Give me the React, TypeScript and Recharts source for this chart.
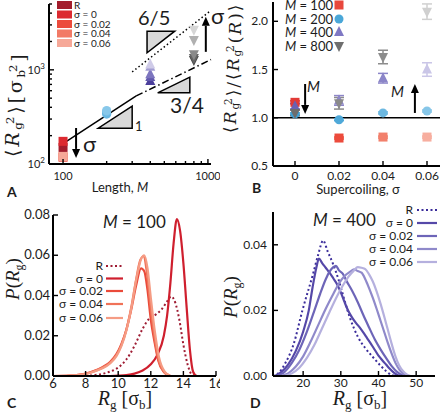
import React from "react";
import { ComposedChart, Scatter, Line, XAxis, YAxis, ReferenceLine, ErrorBar } from "recharts";

const SANS = "Lato, 'Open Sans', sans-serif";
const SERIF = "'Liberation Serif', 'DejaVu Serif', serif";
const WIDE_SERIF = "'DejaVu Serif', serif";
const INK = "#1c1c1c";

// ---- panel A: <Rg^2> vs chain length (log-log)
const lengths = [100, 200, 400, 800];
const variants = ["R", "σ = 0", "σ = 0.02", "σ = 0.04", "σ = 0.06"];
const rg2M100 = [150, 174, 118, 120, 120];
const rg2M200 = [345, 360, 338, 362, 370];
const rg2M400 = [760, 840, 900, 1080, 1140];
const rg2M800 = [1270, 1335, 1460, 2070, 2670];
const xTicksA = [100, 200, 300, 400, 500, 600, 700, 800, 900, 1000];
const yTicksA = [100, 200, 300, 400, 500, 600, 700, 800, 900, 1000, 2000, 3000, 4000, 5000];

// ---- panel B: ratio vs supercoiling
const sigmas = [0, 0.02, 0.04, 0.06];
const ratioM100 = [1.16, 0.79, 0.8, 0.8];
const ratioM200 = [1.04, 0.98, 1.05, 1.07];
const ratioM400 = [1.12, 1.18, 1.41, 1.5];
const ratioM800 = [1.05, 1.15, 1.63, 2.1];
const errM100 = [0.015, 0.01, 0.01, 0.01];
const errM200 = [0.01, 0.01, 0.01, 0.01];
const errM400 = [0.03, 0.05, 0.05, 0.07];
const errM800 = [0.03, 0.06, 0.07, 0.08];
const legendB = ["M = 100", "M = 200", "M = 400", "M = 800"];

// ---- panel C: P(Rg), M = 100
const cR = [[8, 0], [8.5, 0.0004], [9, 0.001], [9.5, 0.0022], [10, 0.0042], [10.5, 0.0082], [11, 0.015], [11.5, 0.0235], [11.9, 0.0285], [12.3, 0.0305], [12.7, 0.0335], [13.0, 0.037], [13.25, 0.0395], [13.5, 0.0365], [13.75, 0.028], [14, 0.0155], [14.25, 0.006], [14.5, 0.0008], [14.7, 0]];
const cS0 = [[9.5, 0], [10, 0.0002], [10.5, 0.0005], [11, 0.0012], [11.5, 0.0027], [12, 0.0058], [12.4, 0.0105], [12.8, 0.02], [13.0, 0.03], [13.2, 0.046], [13.4, 0.066], [13.6, 0.078], [13.8, 0.072], [14.0, 0.056], [14.2, 0.034], [14.4, 0.013], [14.6, 0.002], [14.8, 0]];
const cS2 = [[6, 0], [7, 0.0002], [8, 0.0012], [8.5, 0.0025], [9, 0.0043], [9.5, 0.007], [9.9, 0.011], [10.2, 0.016], [10.5, 0.023], [10.8, 0.033], [11.1, 0.045], [11.4, 0.0535], [11.6, 0.052], [11.8, 0.0425], [12.0, 0.028], [12.25, 0.016], [12.45, 0.0078], [12.8, 0.002], [13.2, 0]];
const cS4 = [[6, 0], [7, 0.0002], [8, 0.0011], [8.5, 0.0023], [9, 0.004], [9.5, 0.0066], [9.9, 0.0105], [10.2, 0.0155], [10.5, 0.023], [10.8, 0.034], [11.1, 0.048], [11.35, 0.0575], [11.55, 0.0595], [11.75, 0.052], [11.95, 0.037], [12.2, 0.021], [12.45, 0.009], [12.8, 0.0022], [13.2, 0]];
const cS6 = [[6, 0], [7, 0.0002], [8, 0.001], [8.5, 0.0021], [9, 0.0037], [9.5, 0.0062], [9.9, 0.01], [10.2, 0.015], [10.5, 0.0225], [10.8, 0.0335], [11.1, 0.0475], [11.4, 0.058], [11.6, 0.06], [11.8, 0.0535], [12.0, 0.039], [12.25, 0.022], [12.5, 0.0095], [12.85, 0.0022], [13.2, 0]];

// ---- panel D: P(Rg), M = 400
const dR = [[12, 0], [13.3, 0.0007], [15.2, 0.0038], [17.5, 0.0098], [19.8, 0.02], [22.6, 0.031], [24, 0.037], [25.3, 0.0413], [26.5, 0.038], [28, 0.034], [29.5, 0.029], [31, 0.023], [32.5, 0.0175], [34.5, 0.012], [36.5, 0.0085], [38.5, 0.0058], [40.5, 0.0032], [42, 0.0015], [43.5, 0.0003], [44.5, 0]];
const dS0 = [[12.5, 0], [14, 0.001], [16, 0.0035], [18, 0.0075], [20, 0.0135], [21.5, 0.02], [22.5, 0.027], [23.5, 0.033], [24.2, 0.0358], [25, 0.0345], [26, 0.033], [27, 0.0315], [28, 0.0298], [29, 0.028], [30, 0.0255], [31, 0.0225], [32, 0.0198], [33, 0.0178], [34, 0.0162], [35, 0.0148], [36, 0.0132], [37, 0.0115], [38, 0.0098], [39, 0.008], [40, 0.0062], [41, 0.0048], [42, 0.0035], [43, 0.0022], [44, 0.0011], [45, 0.0003], [46, 0]];
const dS2 = [[13, 0], [15, 0.0012], [17, 0.004], [19, 0.008], [21, 0.0135], [23, 0.02], [24.5, 0.025], [26, 0.0295], [27, 0.0318], [28, 0.0332], [28.7, 0.0336], [29.5, 0.0322], [30.5, 0.0312], [31.5, 0.029], [33, 0.026], [34.5, 0.0225], [36, 0.0185], [37.5, 0.0148], [39, 0.0112], [40.5, 0.0082], [42, 0.0055], [43.5, 0.003], [45, 0.0012], [46.5, 0.0002], [47.5, 0]];
const dS4 = [[14, 0], [16, 0.0008], [18, 0.0028], [20, 0.006], [22, 0.0105], [24, 0.0155], [26, 0.0205], [28, 0.025], [29.5, 0.0282], [31, 0.0305], [32.5, 0.0318], [33.5, 0.0325], [34.5, 0.032], [35.5, 0.0315], [36.5, 0.0295], [37.5, 0.0268], [38.5, 0.0238], [39.5, 0.0205], [40.5, 0.017], [41.5, 0.0135], [42.5, 0.01], [43.5, 0.0068], [44.5, 0.004], [45.5, 0.002], [46.5, 0.0007], [47.5, 0]];
const dS6 = [[15, 0], [17, 0.0008], [19, 0.0025], [21, 0.0055], [23, 0.0095], [25, 0.0145], [27, 0.0195], [29, 0.0243], [30.5, 0.0275], [32, 0.0302], [33.5, 0.0322], [34.5, 0.0332], [35.5, 0.033], [36.5, 0.0326], [37.5, 0.031], [38.5, 0.0288], [39.5, 0.0258], [40.5, 0.0222], [41.5, 0.0182], [42.5, 0.014], [43.5, 0.0098], [44.5, 0.006], [45.5, 0.0032], [46.5, 0.0015], [47.5, 0.0005], [48.5, 0]];

// colours
const redA = ["#a31d2c", "#dc2a30", "#ec4b3c", "#f27a66", "#f6a898"];
const blueA = ["#4aa3d6", "#5aafdf", "#6ab8e2", "#79c0e6", "#88c8ea"];
const purpleA = ["#4b3f9c", "#6259ad", "#7d75bf", "#a29dd2", "#cfcbe8"];
const greyA = ["#4a4a4a", "#666666", "#8a8a8a", "#b0b0b0", "#d6d6d6"];
const redB = ["#e23a36", "#ec4b3c", "#f2806c", "#f7ae9f"];
const blueB = ["#3f9fd3", "#4fa9d9", "#6cb8e1", "#86c6e8"];
const purpleB = ["#6a61b3", "#8d86c8", "#8b85c8", "#cac6e7"];
const greyB = ["#6d6d6d", "#8a8a8a", "#8c8c8c", "#d0d0d0"];
const lineC = ["#9e1b32", "#cf1f2e", "#ea4a3a", "#f07258", "#f59c84"];
const lineD = ["#3a2c9a", "#5548a8", "#6d65b8", "#8f89ca", "#b5b0de"];

const rows = (pts: number[][]) => pts.map(([x, p]) => ({ x, p }));

type TickOpts = { axis: "x" | "y"; fmt: (v: number) => React.ReactNode | null; gap: number; size?: number; major?: number; minor?: number };
const makeTick = (o: TickOpts) => (p: any) => {
  const v = Number(p.payload.value);
  const lab = o.fmt(v);
  const len = lab === null ? o.minor ?? 3 : o.major ?? 5;
  if (o.axis === "x") {
    return (
      <g>
        <line x1={p.x} x2={p.x} y1={p.y} y2={p.y - len} stroke="#000" strokeWidth={1.4} />
        {lab !== null && (
          <text x={p.x} y={p.y + o.gap} textAnchor="middle" fontFamily={SANS} fontSize={o.size ?? 12} fill={INK}>
            {lab}
          </text>
        )}
      </g>
    );
  }
  return (
    <g>
      <line x1={p.x} x2={p.x + len} y1={p.y} y2={p.y} stroke="#000" strokeWidth={1.4} />
      {lab !== null && (
        <text x={p.x - o.gap} y={p.y + 4} textAnchor="end" fontFamily={SANS} fontSize={o.size ?? 12} fill={INK}>
          {lab}
        </text>
      )}
    </g>
  );
};

const pow10 = (e: string) => (
  <>
    10<tspan dy={-5} fontSize={8}>{e}</tspan>
  </>
);

const tickAX = makeTick({ axis: "x", gap: 16, size: 11, fmt: (v) => (v === 100 ? "100" : v === 1000 ? "1000" : null) });
const tickAY = makeTick({ axis: "y", gap: 4, size: 11, fmt: (v) => (v === 100 ? pow10("2") : v === 1000 ? pow10("3") : null) });
const tickBX = makeTick({ axis: "x", gap: 14, size: 12, fmt: (v) => (v === 0 ? "0" : v.toFixed(2)) });
const tickBY = makeTick({ axis: "y", gap: 5, size: 12, fmt: (v) => v.toFixed(1) });
const tickCX = makeTick({ axis: "x", gap: 12, size: 13, fmt: (v) => String(v) });
const tickCY = makeTick({ axis: "y", gap: 3, size: 13, fmt: (v) => v.toFixed(2) });
const tickDX = makeTick({ axis: "x", gap: 11, size: 12, fmt: (v) => String(v) });
const tickDY = makeTick({ axis: "y", gap: 6, size: 12, fmt: (v) => v.toFixed(2) });

const axisLine = { stroke: "#000", strokeWidth: 2 };

const square = (c: string, s: number) => (p: any) => <rect x={p.cx - s / 2} y={p.cy - s / 2} width={s} height={s} fill={c} />;
const dot = (c: string, s: number) => (p: any) => <circle cx={p.cx} cy={p.cy} r={s / 2} fill={c} />;
const triUp = (c: string, s: number) => (p: any) => (
  <polygon points={`${p.cx},${p.cy - s * 0.6} ${p.cx - s / 2},${p.cy + s * 0.4} ${p.cx + s / 2},${p.cy + s * 0.4}`} fill={c} />
);
const triDown = (c: string, s: number) => (p: any) => (
  <polygon points={`${p.cx},${p.cy + s * 0.6} ${p.cx - s / 2},${p.cy - s * 0.4} ${p.cx + s / 2},${p.cy - s * 0.4}`} fill={c} />
);

// slope triangle drawn on the hypotenuse segment; corner chooses the right-angle vertex
const slopeTri = (corner: "br" | "tl") => (p: any) => {
  const cx = corner === "br" ? p.x2 : p.x1;
  const cy = corner === "br" ? p.y1 : p.y2;
  return <polygon points={`${p.x1},${p.y1} ${cx},${cy} ${p.x2},${p.y2}`} fill="#d9d9d9" stroke="#000" strokeWidth={1.5} />;
};

const arrow = (p: any) => {
  const a = Math.atan2(p.y2 - p.y1, p.x2 - p.x1);
  const L = 9;
  const W = 4;
  const bx = p.x2 - L * Math.cos(a);
  const by = p.y2 - L * Math.sin(a);
  const nx = -Math.sin(a) * W;
  const ny = Math.cos(a) * W;
  return (
    <g>
      <line x1={p.x1} y1={p.y1} x2={bx} y2={by} stroke="#000" strokeWidth={2} />
      <polygon points={`${p.x2},${p.y2} ${bx + nx},${by + ny} ${bx - nx},${by - ny}`} fill="#000" />
    </g>
  );
};

// axis blocks are 1px deep, so margins are one less than the plot offsets
function PanelA() {
  const groups = [
    { m: lengths[0], v: rg2M100, c: redA, shape: square, s: 9 },
    { m: lengths[1], v: rg2M200, c: blueA, shape: dot, s: 9 },
    { m: lengths[2], v: rg2M400, c: purpleA, shape: triUp, s: 10 },
    { m: lengths[3], v: rg2M800, c: greyA, shape: triDown, s: 10 },
  ];
  return (
    <ComposedChart width={220} height={210} margin={{ top: 4, right: 9, bottom: 45, left: 48 }}>
      <XAxis type="number" dataKey="m" scale="log" domain={[80, 1050]} ticks={xTicksA} interval={0} allowDataOverflow
        height={1} tickSize={0} tickMargin={0} axisLine={axisLine} tickLine={false} tick={tickAX} />
      <YAxis type="number" dataKey="v" scale="log" domain={[100, 5000]} ticks={yTicksA} interval={0} allowDataOverflow
        width={1} tickSize={0} tickMargin={0} axisLine={axisLine} tickLine={false} tick={tickAY} />
      <ReferenceLine segment={[{ x: 100, y: 165 }, { x: 320, y: 528 }]} stroke="#000" strokeWidth={1.5} />
      <ReferenceLine segment={[{ x: 320, y: 528 }, { x: 1050, y: 1286 }]} stroke="#000" strokeWidth={1.5} strokeDasharray="7 3 1.5 3" />
      <ReferenceLine segment={[{ x: 300, y: 950 }, { x: 1040, y: 4223 }]} stroke="#000" strokeWidth={1.5} strokeDasharray="1.5 2.5" />
      <ReferenceLine segment={[{ x: 175, y: 240 }, { x: 300, y: 411 }]} shape={slopeTri("br")} />
      <ReferenceLine segment={[{ x: 450, y: 570 }, { x: 750, y: 836 }]} shape={slopeTri("br")} />
      <ReferenceLine segment={[{ x: 380, y: 1516 }, { x: 590, y: 2571 }]} shape={slopeTri("tl")} />
      <ReferenceLine segment={[{ x: 123, y: 241 }, { x: 123, y: 116 }]} shape={arrow} />
      <ReferenceLine segment={[{ x: 967, y: 1552 }, { x: 967, y: 3660 }]} shape={arrow} />
      {groups.map((g) =>
        g.v.map((v, j) => (
          <Scatter key={`${g.m}-${j}`} data={[{ m: g.m, v }]} fill={g.c[j]} shape={g.shape(g.c[j], g.s)} isAnimationActive={false} />
        ))
      )}
    </ComposedChart>
  );
}

function PanelB() {
  const groups = [
    { r: ratioM100, e: errM100, c: redB, shape: square, s: 9 },
    { r: ratioM200, e: errM200, c: blueB, shape: dot, s: 9 },
    { r: ratioM400, e: errM400, c: purpleB, shape: triUp, s: 10 },
    { r: ratioM800, e: errM800, c: greyB, shape: triDown, s: 10 },
  ];
  return (
    <ComposedChart width={240} height={205} margin={{ top: 2, right: 11, bottom: 38, left: 52 }}>
      <XAxis type="number" dataKey="s" domain={[-0.01, 0.07]} ticks={sigmas} interval={0} allowDataOverflow
        height={1} tickSize={0} tickMargin={0} axisLine={axisLine} tickLine={false} tick={tickBX} />
      <YAxis type="number" dataKey="r" domain={[0.5, 2.2]} ticks={[0.5, 1, 1.5, 2]} interval={0} allowDataOverflow
        width={1} tickSize={0} tickMargin={0} axisLine={axisLine} tickLine={false} tick={tickBY} />
      <ReferenceLine y={1} stroke="#000" strokeWidth={1.5} />
      <ReferenceLine segment={[{ x: 0.0046, y: 1.35 }, { x: 0.0046, y: 1.04 }]} shape={arrow} />
      <ReferenceLine segment={[{ x: 0.0545, y: 1.05 }, { x: 0.0545, y: 1.35 }]} shape={arrow} />
      {groups.map((g, i) =>
        g.r.map((r, j) => (
          <Scatter key={`${i}-${j}`} data={[{ s: sigmas[j], r, e: g.e[j] }]} fill={g.c[j]} shape={g.shape(g.c[j], g.s)} isAnimationActive={false}>
            <ErrorBar dataKey="e" direction="y" width={5} stroke={g.c[j]} strokeWidth={1.5} />
          </Scatter>
        ))
      )}
    </ComposedChart>
  );
}

function DistPanel(props: {
  curves: number[][][]; colors: string[]; xDomain: number[]; xTicks: number[]; yDomain: number[]; yTicks: number[];
  margin: { top: number; right: number; bottom: number; left: number }; tickX: any; tickY: any;
}) {
  return (
    <ComposedChart width={220} height={209} margin={props.margin}>
      <XAxis type="number" dataKey="x" domain={props.xDomain} ticks={props.xTicks} interval={0} allowDataOverflow
        height={1} tickSize={0} tickMargin={0} axisLine={axisLine} tickLine={false} tick={props.tickX} />
      <YAxis type="number" dataKey="p" domain={props.yDomain} ticks={props.yTicks} interval={0} allowDataOverflow
        width={1} tickSize={0} tickMargin={0} axisLine={axisLine} tickLine={false} tick={props.tickY} />
      {props.curves.map((c, i) => (
        <Line key={i} data={rows(c)} dataKey="p" type="monotone" dot={false} stroke={props.colors[i]}
          strokeWidth={i === 0 ? 2 : 2.2} strokeDasharray={i === 0 ? "2 2.5" : undefined} isAnimationActive={false} />
      ))}
    </ComposedChart>
  );
}

// subscript with a stacked superscript, followed by normal text
const Sub = ({ t, s, after }: { t: string; s: string; after: string }) => (
  <>
    <tspan fontSize="0.62em" dy="0.25em">{t}</tspan>
    <tspan fontSize="0.62em" dx="-0.4em" dy="-0.65em">{s}</tspan>
    <tspan dy="0.4em">{after}</tspan>
  </>
);

function Overlay() {
  const legendA = variants.map((v, i) => (
    <g key={v}>
      <rect x={57} y={1 + i * 9.5} width={15} height={8} fill={redA[i]} />
      <text x={74} y={8.5 + i * 9.5} fontFamily={SANS} fontSize={10} fill={INK}>{v}</text>
    </g>
  ));
  const bMarks = [
    (x: number, y: number) => <rect x={x - 4.5} y={y - 4.5} width={9} height={9} fill="#e8473c" />,
    (x: number, y: number) => <circle cx={x} cy={y} r={4.5} fill="#4aa7d8" />,
    (x: number, y: number) => <polygon points={`${x},${y - 6} ${x - 5},${y + 4} ${x + 5},${y + 4}`} fill="#7f78c4" />,
    (x: number, y: number) => <polygon points={`${x},${y + 6} ${x - 5},${y - 4} ${x + 5},${y - 4}`} fill="#6e6e6e" />,
  ];
  const bRows = [5, 19, 32, 46];
  const cRows = [266, 278.5, 291, 304, 318];
  const dRows = [210, 223, 236, 249, 262];
  return (
    <svg width={440} height={414} style={{ position: "absolute", left: 0, top: 0, pointerEvents: "none" }}>
      {/* panel A */}
      {legendA}
      <text x={138} y={25} fontFamily={SANS} fontSize={20} fill={INK}>6/5</text>
      <text x={170} y={113} fontFamily={SANS} fontSize={21} fill={INK}>3/4</text>
      <text x={135} y={131} fontFamily={SANS} fontSize={13} fill={INK}>1</text>
      <text x={83} y={152} fontFamily={SANS} fontSize={22} fill={INK}>σ</text>
      <text x={211} y={24} fontFamily={SANS} fontSize={22} fill={INK}>σ</text>
      <text transform="translate(19,157) rotate(-90)" fontFamily={WIDE_SERIF} fontSize={19} letterSpacing={2.8} fill={INK}>
        ⟨<tspan fontStyle="italic">R</tspan><Sub t="g" s="2" after="⟩[σ" /><Sub t="b" s="2" after="]" />
      </text>
      <text x={120} y={192} textAnchor="middle" fontFamily={SANS} fontSize={13} fill={INK}>
        Length, <tspan fontStyle="italic">M</tspan>
      </text>
      <text x={7} y={197} fontFamily={SANS} fontWeight="bold" fontSize={14} fill={INK}>A</text>

      {/* panel B */}
      {legendB.map((l, i) => (
        <g key={l}>
          <text x={333} y={bRows[i] + 4.5} textAnchor="end" fontFamily={SANS} fontSize={13} fill={INK}>
            <tspan fontStyle="italic">M</tspan>{l.slice(1)}
          </text>
          {bMarks[i](339, bRows[i])}
        </g>
      ))}
      <text x={307} y={92} fontFamily={SANS} fontStyle="italic" fontSize={15} fill={INK}>M</text>
      <text x={391} y={97} fontFamily={SANS} fontStyle="italic" fontSize={15} fill={INK}>M</text>
      <text transform="translate(236,133) rotate(-90)" fontFamily={WIDE_SERIF} fontSize={17} letterSpacing={2} fill={INK}>
        ⟨<tspan fontStyle="italic">R</tspan><Sub t="g" s="2" after="⟩/⟨" /><tspan fontStyle="italic">R</tspan><Sub t="g" s="2" after="(" /><tspan fontStyle="italic">R</tspan>)⟩
      </text>
      <text x={358} y={194} textAnchor="middle" fontFamily={SANS} fontSize={13} fill={INK}>Supercoiling, σ</text>
      <text x={252} y={193} fontFamily={SANS} fontWeight="bold" fontSize={14} fill={INK}>B</text>

      {/* panel C */}
      <text x={103} y={228} fontFamily={SANS} fontSize={17} fill={INK}>
        <tspan fontStyle="italic">M</tspan> = 100
      </text>
      {variants.map((v, i) => (
        <g key={v}>
          <text x={103} y={cRows[i] + 4} textAnchor="end" fontFamily={SANS} fontSize={12} fill={INK}>{v}</text>
          <line x1={106} x2={123} y1={cRows[i]} y2={cRows[i]} stroke={lineC[i]} strokeWidth={2.2} strokeDasharray={i === 0 ? "2 2.5" : undefined} />
        </g>
      ))}
      <text transform="translate(19,279) rotate(-90)" textAnchor="middle" fontFamily={SERIF} fontSize={19} fill={INK}>
        <tspan fontStyle="italic">P</tspan>(<tspan fontStyle="italic">R</tspan><tspan fontSize={12} dy={4}>g</tspan><tspan dy={-4}>)</tspan>
      </text>
      <text x={125} y={405} textAnchor="middle" fontFamily={SERIF} fontSize={20} fill={INK}>
        <tspan fontStyle="italic">R</tspan><tspan fontSize={13} dy={4}>g</tspan><tspan dy={-4}> [σ</tspan><tspan fontSize={13} dy={4}>b</tspan><tspan dy={-4}>]</tspan>
      </text>
      <text x={7} y={408} fontFamily={SANS} fontWeight="bold" fontSize={14} fill={INK}>C</text>

      {/* panel D */}
      <text x={313} y={226} fontFamily={SANS} fontSize={17} fill={INK}>
        <tspan fontStyle="italic">M</tspan> = 400
      </text>
      {variants.map((v, i) => (
        <g key={v}>
          <text x={413} y={dRows[i] + 4} textAnchor="end" fontFamily={SANS} fontSize={12} fill={INK}>{v}</text>
          <line x1={417} x2={437} y1={dRows[i]} y2={dRows[i]} stroke={lineD[i]} strokeWidth={2.2} strokeDasharray={i === 0 ? "2 2.5" : undefined} />
        </g>
      ))}
      <text transform="translate(237,297) rotate(-90)" textAnchor="middle" fontFamily={SERIF} fontSize={19} fill={INK}>
        <tspan fontStyle="italic">P</tspan>(<tspan fontStyle="italic">R</tspan><tspan fontSize={12} dy={4}>g</tspan><tspan dy={-4}>)</tspan>
      </text>
      <text x={360} y={405} textAnchor="middle" fontFamily={SERIF} fontSize={20} fill={INK}>
        <tspan fontStyle="italic">R</tspan><tspan fontSize={13} dy={4}>g</tspan><tspan dy={-4}> [σ</tspan><tspan fontSize={13} dy={4}>b</tspan><tspan dy={-4}>]</tspan>
      </text>
      <text x={250} y={408} fontFamily={SANS} fontWeight="bold" fontSize={14} fill={INK}>D</text>
    </svg>
  );
}

export default function App() {
  return (
    <div style={{ position: "absolute", left: 0, top: 0, width: 440, height: 414, overflow: "hidden", background: "#fff" }}>
      <div style={{ position: "absolute", left: 0, top: 0 }}>
        <PanelA />
      </div>
      <div style={{ position: "absolute", left: 220, top: 0 }}>
        <PanelB />
      </div>
      <div style={{ position: "absolute", left: 0, top: 205 }}>
        <DistPanel curves={[cR, cS0, cS2, cS4, cS6]} colors={lineC} xDomain={[6, 16]} xTicks={[6, 8, 10, 12, 14, 16]}
          yDomain={[0, 0.08]} yTicks={[0, 0.02, 0.04, 0.06, 0.08]} margin={{ top: 10, right: 4, bottom: 37, left: 52 }}
          tickX={tickCX} tickY={tickCY} />
      </div>
      <div style={{ position: "absolute", left: 220, top: 205 }}>
        <DistPanel curves={[dR, dS0, dS2, dS4, dS6]} colors={lineD} xDomain={[12, 55]} xTicks={[20, 30, 40, 50]}
          yDomain={[0, 0.05]} yTicks={[0, 0.02, 0.04]} margin={{ top: 7, right: 5, bottom: 37, left: 52 }}
          tickX={tickDX} tickY={tickDY} />
      </div>
      <Overlay />
    </div>
  );
}
